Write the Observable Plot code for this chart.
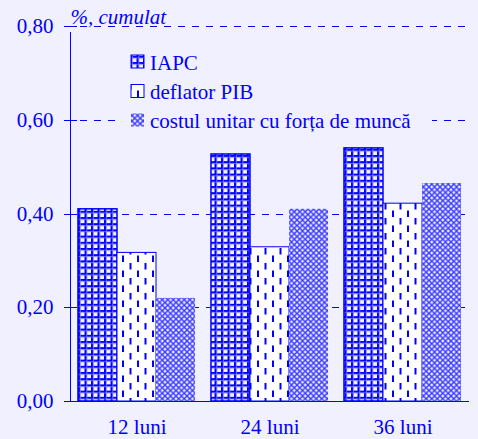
<!DOCTYPE html>
<html><head><meta charset="utf-8">
<script src="https://cdn.jsdelivr.net/npm/d3@7"></script>
<script src="https://cdn.jsdelivr.net/npm/@observablehq/plot@0.6"></script>
<style>html,body{margin:0;padding:0;background:#f0f0ff;}</style>
</head><body><div id="chart"></div>
<script>
const categories = ["12 luni", "24 luni", "36 luni"];
const seriesNames = ["IAPC", "deflator PIB", "costul unitar cu forța de muncă"];
const iapc = [0.41, 0.527, 0.54];
const deflatorPIB = [0.317, 0.329, 0.422];
const costulUnitar = [0.22, 0.41, 0.465];
const yTicks = [0, 0.2, 0.4, 0.6, 0.8];
const yTickLabels = ["0,00", "0,20", "0,40", "0,60", "0,80"];
const yLabel = "%, cumulat";

const seriesValues = [iapc, deflatorPIB, costulUnitar];
const patternIds = ["pIAPC", "pDefl", "pCost"];
const seriesStroke = ["#0000ff", "#0000ff", "none"];
const seriesStrokeWidth = [1.5, 1, 0];
const groupWidth = 0.88, barWidth = groupWidth / 3;
const xMin = -0.5, xMax = 2.5;
const data = categories.flatMap((c, i) => seriesValues.map((vals, j) => ({cat: c, i, j, series: seriesNames[j], value: vals[i]})));

const blue = "#0000ff";
const bg = "#f0f0ff";
const font = "'Liberation Serif','Times New Roman',serif";

const plot = Plot.plot({
  width: 478, height: 439,
  marginLeft: 70, marginRight: 9, marginTop: 26, marginBottom: 38,
  style: {background: bg, color: blue, fontFamily: font, fontSize: "21px", overflow: "visible"},
  x: {domain: [xMin, xMax], ticks: [0, 1, 2], tickFormat: i => categories[i], tickSize: 0, tickPadding: 18, label: null},
  y: {domain: [0, 0.8], ticks: yTicks, tickFormat: d => yTickLabels[yTicks.indexOf(d)], tickSize: 0, tickPadding: 17, label: null},
  color: {type: "identity"},
  marks: [
    Plot.ruleY(yTicks.filter(d => d > 0), {stroke: blue, strokeDasharray: "7,7", insetLeft: 10, shapeRendering: "crispEdges"}),
    ...[0, 1, 2].map(j => Plot.rectY(data.filter(d => d.j === j), {
      x1: d => d.i - groupWidth / 2 + d.j * barWidth,
      x2: d => d.i - groupWidth / 2 + (d.j + 1) * barWidth,
      y1: 0, y2: "value",
      fill: d => `url(#${patternIds[d.j]})`,
      stroke: seriesStroke[j], strokeWidth: seriesStrokeWidth[j]
    })),
    Plot.ruleY(yTicks, {x1: xMin, x2: xMin, insetLeft: -6, insetRight: -7, stroke: blue, shapeRendering: "crispEdges"}),
    Plot.ruleX([xMin], {y1: 0, y2: 0.8, insetBottom: -6, stroke: blue, shapeRendering: "crispEdges"}),
    Plot.ruleY([0], {insetLeft: -6, stroke: blue, shapeRendering: "crispEdges"}),
    Plot.text([yLabel], {frameAnchor: "top-left", textAnchor: "start", lineAnchor: "bottom", dy: -3, fontStyle: "italic", fill: blue})
  ]
});
document.getElementById("chart").appendChild(plot);

const svg = d3.select(plot);
const defs = svg.insert("defs", ":first-child");
// IAPC: grid
const p1 = defs.append("pattern").attr("id", "pIAPC").attr("patternUnits", "userSpaceOnUse").attr("width", 6.5).attr("height", 6.2);
p1.append("rect").attr("width", 6.5).attr("height", 6.2).attr("fill", "#f4f4ff");
p1.append("rect").attr("x", 0).attr("width", 2).attr("height", 6.2).attr("fill", blue);
p1.append("rect").attr("y", 0).attr("width", 6.5).attr("height", 2).attr("fill", blue);
p1.append("rect").attr("x", 2).attr("width", 0.8).attr("height", 6.2).attr("fill", "#8080ff");
p1.append("rect").attr("y", 2).attr("width", 6.5).attr("height", 0.8).attr("fill", "#8080ff");
// deflator: dashes
const p2 = defs.append("pattern").attr("id", "pDefl").attr("patternUnits", "userSpaceOnUse").attr("width", 15).attr("height", 15);
p2.append("rect").attr("width", 15).attr("height", 15).attr("fill", "#ffffff");
p2.append("rect").attr("x", 2).attr("y", 0.5).attr("width", 2).attr("height", 6.5).attr("fill", blue);
p2.append("rect").attr("x", 9.5).attr("y", 8).attr("width", 2).attr("height", 6.5).attr("fill", blue);
// cost: diamond crosshatch
const p3 = defs.append("pattern").attr("id", "pCost").attr("patternUnits", "userSpaceOnUse").attr("width", 5.5).attr("height", 5.5);
p3.append("rect").attr("width", 5.5).attr("height", 5.5).attr("fill", "#c4c4ff");
p3.append("path").attr("d", "M0,0L5.5,5.5M5.5,0L0,5.5").attr("stroke", "#3a3aff").attr("stroke-width", 1.2);
p3.append("rect").attr("x", 2.0).attr("y", -0.75).attr("width", 1.5).attr("height", 1.5).attr("fill", "#ffffff");
p3.append("rect").attr("x", 2.0).attr("y", 4.75).attr("width", 1.5).attr("height", 1.5).attr("fill", "#ffffff");
p3.append("rect").attr("x", -0.75).attr("y", 2.0).attr("width", 1.5).attr("height", 1.5).attr("fill", "#ffffff");
p3.append("rect").attr("x", 4.75).attr("y", 2.0).attr("width", 1.5).attr("height", 1.5).attr("fill", "#ffffff");

// legend
const lg = svg.append("g").attr("font-family", font).attr("font-size", 21).attr("fill", blue).attr("text-anchor", "start");
lg.append("rect").attr("x", 116).attr("y", 107).attr("width", 316).attr("height", 26).attr("fill", bg);
const rowY = [61.5, 91, 120];
seriesNames.forEach((name, j) => {
  lg.append("rect").attr("x", 131).attr("y", rowY[j] - 6.5).attr("width", 13).attr("height", 13)
    .attr("fill", `url(#${patternIds[j]})`).attr("stroke", seriesStroke[j]).attr("stroke-width", j === 2 ? 0 : 1);
  lg.append("text").attr("x", 150).attr("y", rowY[j] + 1).attr("dy", "0.35em").attr("text-anchor", "start").text(name);
});
</script>
</body></html>
